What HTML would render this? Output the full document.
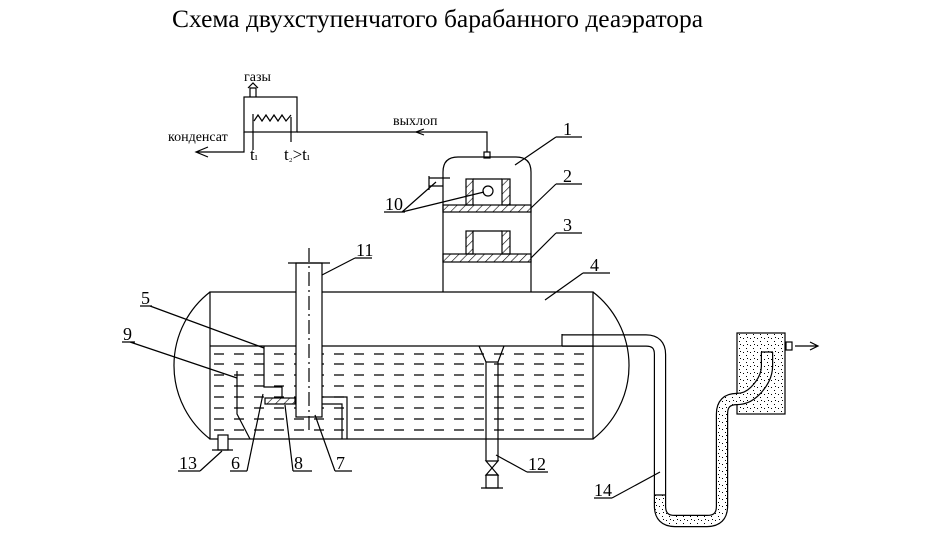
<!DOCTYPE html>
<html><head><meta charset="utf-8"><style>
html,body{margin:0;padding:0;background:#fff}
svg{display:block}
text{font-family:"Liberation Serif",serif;fill:#000}
.s{font-family:"Liberation Sans",sans-serif}
</style></head><body>
<svg width="937" height="534" viewBox="0 0 937 534" xmlns="http://www.w3.org/2000/svg">
<defs>
<pattern id="h" width="6" height="6" patternUnits="userSpaceOnUse" patternTransform="rotate(45)">
<line x1="0" y1="0" x2="0" y2="6" stroke="#000" stroke-width="1.2"/></pattern>
<pattern id="d" width="7" height="7" patternUnits="userSpaceOnUse">
<rect x="1" y="2" width="1" height="1" fill="#000"/><rect x="4" y="5" width="1" height="1" fill="#000"/><rect x="5" y="1" width="1" height="1" fill="#000"/></pattern>
</defs>
<text x="172" y="27" font-size="25" textLength="531" lengthAdjust="spacingAndGlyphs">Схема двухступенчатого барабанного деаэратора</text>
<g fill="none" stroke="#000" stroke-width="1.2">
<!-- cooler -->
<rect x="244" y="97" width="53" height="35"/>
<path d="M250 97V88h6v9M248 88l5-5 5 5"/>
<polyline points="254,121 258,115 262,121 266,115 270,121 274,115 278,121 282,115 286,121 291,115"/>
<path d="M253 150V114M291 117V142"/>
<path d="M297 132H487V152"/>
<rect x="484" y="152" width="6" height="6"/>
<path d="M244 132V152H196M208 147l-12 5 12 5"/>
<path d="M424 129l-8 3 8 3"/>
<!-- column -->
<path d="M443 186V172q0-15 15-15H516q15 0 15 15V292M443 186V292"/>
<path d="M429 176V190M429 178H450M429 186H443"/>
<rect x="443" y="205" width="88" height="7" fill="url(#h)"/>
<rect x="443" y="254" width="88" height="8" fill="url(#h)"/>
<rect x="466" y="179" width="7" height="26" fill="url(#h)"/>
<rect x="502" y="179" width="8" height="26" fill="url(#h)"/>
<path d="M473 179H502"/>
<circle cx="488" cy="191" r="5"/>
<rect x="466" y="231" width="7" height="23" fill="url(#h)"/>
<rect x="502" y="231" width="8" height="23" fill="url(#h)"/>
<path d="M473 231H502"/>
<!-- pipe 14 tube -->
<rect x="737" y="333" width="48" height="81" fill="url(#d)"/>
<path d="M562 340.5H646q14 0 14 14V506q0 15 15 15H707q15 0 15-15V414q0-15 15-15q10 0 18-8q12-12 12-25V352" stroke-width="12.4"/>
<path d="M562 340.5H646q14 0 14 14V506q0 15 15 15H707q15 0 15-15V414q0-15 15-15q10 0 18-8q12-12 12-25V352" stroke="#fff" stroke-width="10"/>
<path d="M660 495V506q0 15 15 15H707q15 0 15-15V414q0-15 15-15q10 0 18-8q12-12 12-25V352" stroke="url(#d)" stroke-width="10"/>
<path d="M655 495H666M761 352H773M562 334V346"/>
<rect x="786" y="342" width="6" height="8"/>
<path d="M795 346H818M810 342l8 4-8 4"/>
<!-- tank -->
<path d="M210 292H593V439H210Z"/>
<path d="M210 292A93 93 0 0 0 210 439M593 292A93 93 0 0 1 593 439"/>
<path d="M210 346H593"/>
<g stroke-dasharray="10 10">
<path d="M214 354H590M214 364H590M214 375H590M214 386H590M214 397H590M214 408H590M214 419H590M214 430H590"/>
</g>
<!-- pipe 11 -->
<rect x="296" y="263" width="26" height="154" fill="#fff"/>
<path d="M288 263H330"/>
<path d="M309 248V433" stroke-dasharray="14 4 2 4"/>
<path d="M264 346V387H282V397"/>
<rect x="265" y="398" width="30" height="6" fill="url(#h)"/>
<path d="M322 397H347V439M322 404H342V439"/>
<path d="M237 371V414L250 439"/>
<rect x="218" y="435" width="10" height="15" fill="#fff"/>
<path d="M212 450H233"/>
<!-- 12 -->
<path d="M479 346L486 362V461M504 346L498 362V461M486 362H498"/>
<path d="M486 461H498L486 475H498Z"/>
<rect x="486" y="475" width="12" height="13"/>
<path d="M481 488H503"/>
<!-- leaders -->
<path d="M556 137H582M556 137L515 165"/>
<path d="M556 184H582M556 184L531 208"/>
<path d="M556 233H582M556 233L531 258"/>
<path d="M583 273H610M583 273L545 300"/>
<path d="M355 258H372M355 258L322 275"/>
<path d="M140 306H152M150 306L264 348"/>
<path d="M122 342H135M130 342L237 378"/>
<path d="M178 471H200M200 471L222 451"/>
<path d="M230 471H247M247 471L263 394"/>
<path d="M293 471H312M293 471L285 405"/>
<path d="M335 471H352M335 471L315 415"/>
<path d="M527 472H548M527 472L496 455"/>
<path d="M594 498H612M612 498L660 472"/>
<path d="M384 212H405M402 212L436 182M402 212L484 192"/>
</g>
<g font-size="14">
<text x="244" y="81">газы</text>
<text x="168" y="141">конденсат</text>
<text x="393" y="125">выхлоп</text>
</g>
<g class="s" font-size="17">
<text x="250" y="160">t<tspan font-size="10">ı</tspan></text>
<text x="284" y="160">t<tspan font-size="11">₂</tspan>&gt;t<tspan font-size="10">ı</tspan></text>
</g>
<g class="s" font-size="18">
<text x="563" y="135">1</text>
<text x="563" y="182">2</text>
<text x="563" y="231">3</text>
<text x="590" y="271">4</text>
<text x="141" y="304">5</text>
<text x="123" y="340">9</text>
<text x="356" y="256">11</text>
<text x="385" y="210">10</text>
<text x="179" y="469">13</text>
<text x="231" y="469">6</text>
<text x="294" y="469">8</text>
<text x="336" y="469">7</text>
<text x="528" y="470">12</text>
<text x="594" y="496">14</text>
</g>
</svg>
</body></html>
